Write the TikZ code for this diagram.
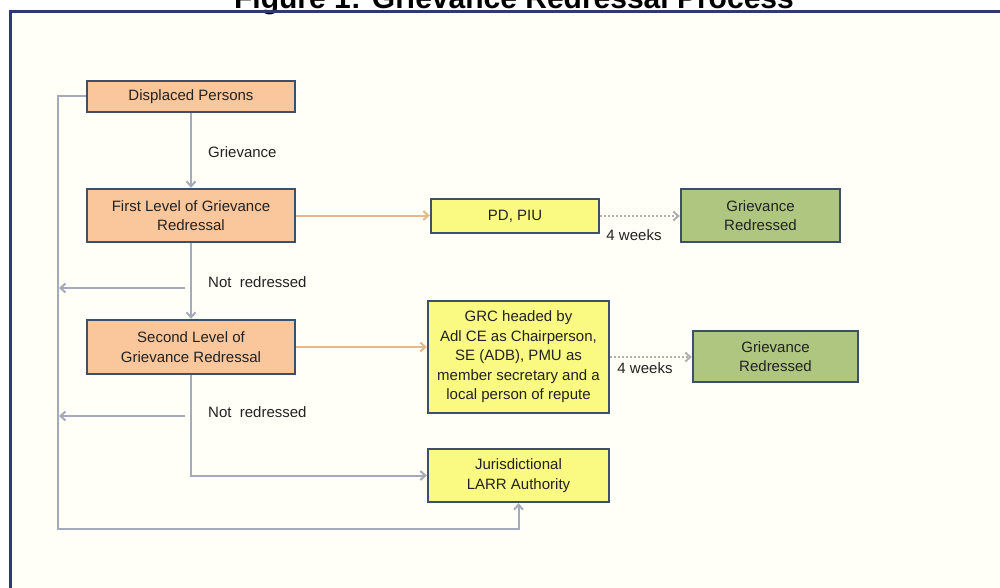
\documentclass[tikz,border=0pt]{standalone}
\usepackage{fontspec}
\setmainfont{Liberation Sans}
\usetikzlibrary{arrows.meta}
\definecolor{frameblue}{HTML}{2E3B6E}
\definecolor{boxline}{HTML}{3E4F6A}
\definecolor{peach}{HTML}{FAC69C}
\definecolor{lemon}{HTML}{FAFA82}
\definecolor{sage}{HTML}{AEC680}
\definecolor{greyline}{HTML}{A3AABD}
\definecolor{orangeline}{HTML}{E4B98E}
\definecolor{dotline}{HTML}{B0B0B0}
\definecolor{txt}{HTML}{222222}
\tikzset{
  boxbase/.style={draw=boxline, line width=2.4pt, inner sep=0pt, align=center,
    text=txt, font=\fontsize{15}{19.5}\selectfont},
  peachbox/.style={boxbase, fill=peach},
  lemonbox/.style={boxbase, fill=lemon},
  sagebox/.style={boxbase, fill=sage},
  tip/.style={-{Straight Barb[length=5pt,width=9pt]}},
  greyarrow/.style={tip, draw=greyline, line width=2pt},
  orangearrow/.style={tip, draw=orangeline, line width=2pt},
  dotarrow/.style={tip, draw=dotline, line width=2pt, dotted},
  lbl/.style={text=txt, font=\fontsize{15}{17}\selectfont, inner sep=0pt}
}
\begin{document}
\begin{tikzpicture}[x=1pt,y=-1pt]
\useasboundingbox (0,0) rectangle (1000,588);
\clip (0,0) rectangle (1000,588);
\fill[white] (0,0) rectangle (1000,588);
\fill[yellow!3] (11,13) rectangle (1000,588);
% title
\node[anchor=base, inner sep=0pt, font=\fontsize{30}{34}\selectfont\bfseries] (title) at (514,9) {Figure 1: Grievance Redressal Process};
% frame
\draw[frameblue, line width=3pt] (10,590) -- (10,12) -- (1002,12);
% boxes
\node[peachbox, minimum width=208pt, minimum height=31pt] (dp) at (191,96.5) {Displaced Persons};
\node[peachbox, minimum width=208pt, minimum height=53pt] (fl) at (191,215.5) {First Level of Grievance\\Redressal};
\node[peachbox, minimum width=208pt, minimum height=54pt] (sl) at (191,347) {Second Level of\\Grievance Redressal};
\node[lemonbox, minimum width=168pt, minimum height=34pt] (pd) at (515,216) {PD, PIU};
\node[sagebox, minimum width=159pt, minimum height=53pt] (gr1) at (760.5,215.5) {Grievance\\Redressed};
\node[lemonbox, minimum width=181pt, minimum height=112pt] (grc) at (518.5,357) {GRC headed by\\Adl CE as Chairperson,\\SE (ADB), PMU as\\member secretary and a\\local person of repute};
\node[sagebox, minimum width=165pt, minimum height=51pt] (gr2) at (775.5,356.5) {Grievance\\Redressed};
\node[lemonbox, minimum width=181pt, minimum height=53pt] (jur) at (518.5,475.5) {Jurisdictional\\LARR Authority};
% labels
\node[lbl, anchor=west] (lgr) at (208,152) {Grievance};
\node[lbl, anchor=west] (lnr1) at (208,282) {Not\ \ redressed};
\node[lbl, anchor=west] (lnr2) at (208,412) {Not\ \ redressed};
\node[lbl] (lw1) at (634,235) {4 weeks};
\node[lbl] (lw2) at (645,368) {4 weeks};
% coordinates for free-ended arrows
\coordinate (n1s) at (185,288);
\coordinate (n1e) at (59,288);
\coordinate (n2s) at (185,416);
\coordinate (n2e) at (59,416);
\coordinate (fbtop) at (58,96.5);
\coordinate (fbbot) at (518.5,529);
% connectors
\draw[greyarrow] (dp.south) -- (fl.north);
\draw[greyarrow] (fl.south) -- (sl.north);
\draw[orangearrow] (fl.east) -- (fl.east -| pd.west);
\draw[orangearrow] (sl.east) -- (sl.east -| grc.west);
\draw[dotarrow] (pd.east) -- (pd.east -| gr1.west);
\draw[dotarrow] (grc.east) -- (grc.east -| gr2.west);
\draw[greyarrow] (sl.south) |- (jur.west);
\draw[greyarrow] (n1s) -- (n1e);
\draw[greyarrow] (n2s) -- (n2e);
\draw[greyarrow] (dp.west) -- (fbtop) |- (fbbot) -- (jur.south);
\end{tikzpicture}
\end{document}
